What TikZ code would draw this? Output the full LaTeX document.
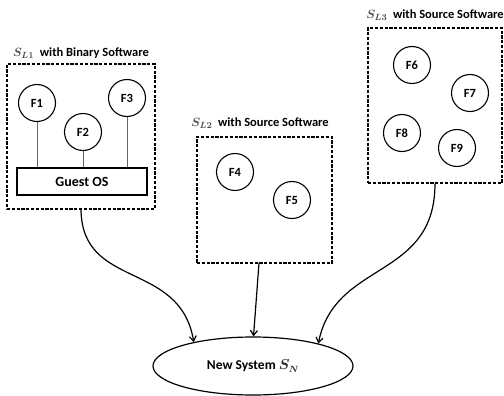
\documentclass[tikz,border=0pt]{standalone}
\usepackage{fontspec}
\setmainfont{Carlito}
\usetikzlibrary{arrows.meta,shapes.geometric}
\begin{document}
\begin{tikzpicture}[x=1pt,y=-1pt,
  dbox/.style={draw,dash pattern=on 3.2pt off 1.6pt,line width=1.2pt,minimum width=#1},
  fn/.style={draw,circle,line width=1.1pt,minimum size=37pt,inner sep=0pt,font=\bfseries\fontsize{12.5}{14}\selectfont},
  lbl/.style={font=\bfseries\fontsize{12.5}{14}\selectfont,inner sep=0pt},
  link/.style={draw,gray!80!black,line width=0.8pt},
  arr/.style={draw,line width=1.2pt,-{Straight Barb[length=5pt,width=7pt]}}]
\useasboundingbox (0,0) rectangle (504,396);
% box L1
\node[dbox=148pt,minimum height=145pt] (l1) at (81,136.5) {};
\node[lbl] (t1) at (81,53) {\textcolor{black!70}{\boldmath$S_{L1}$}\ \ with Binary Software};
\node[draw,line width=1.1pt,minimum width=130pt,minimum height=27pt,font=\bfseries\fontsize{14}{16}\selectfont] (os) at (82,181.5) {Guest OS};
\node[fn] (f1) at (37,103) {F1};
\node[fn] (f2) at (83,132) {F2};
\node[fn] (f3) at (127,98) {F3};
\draw[link] (f1.south) -- (f1.south |- os.north);
\draw[link] (f2.south) -- (f2.south |- os.north);
\draw[link] (f3.south) -- (f3.south |- os.north);
% box L2
\node[dbox=135pt,minimum height=126pt] (l2) at (264.5,200) {};
\node[lbl] (t2) at (260,123) {\textcolor{black!70}{\boldmath$S_{L2}$}\ \ with Source Software};
\node[fn] (f4) at (235,172) {F4};
\node[fn] (f5) at (292,200) {F5};
% box L3
\node[dbox=134pt,minimum height=155pt] (l3) at (435,105.5) {};
\node[lbl] (t3) at (435,15) {\textcolor{black!70}{\boldmath$S_{L3}$}\ \ with Source Software};
\node[fn] (f6) at (412,65) {F6};
\node[fn] (f7) at (470,93) {F7};
\node[fn] (f8) at (402,133) {F8};
\node[fn] (f9) at (457,148) {F9};
% new system
\node[draw,ellipse,line width=1.2pt,minimum width=200pt,minimum height=58pt,font=\bfseries\fontsize{13.5}{16}\selectfont] (ns) at (253,366) {New System \textcolor{black!85}{\boldmath$S_N$}};
% arrows
\coordinate (b2) at (259,263);
\draw[arr] (l1.south) .. controls (82,290) and (180,260) .. (ns.158);
\draw[arr] (b2) -- (ns.89);
\draw[arr] (l3.south) .. controls (435,280) and (335,260) .. (ns.19);
\end{tikzpicture}
\end{document}
